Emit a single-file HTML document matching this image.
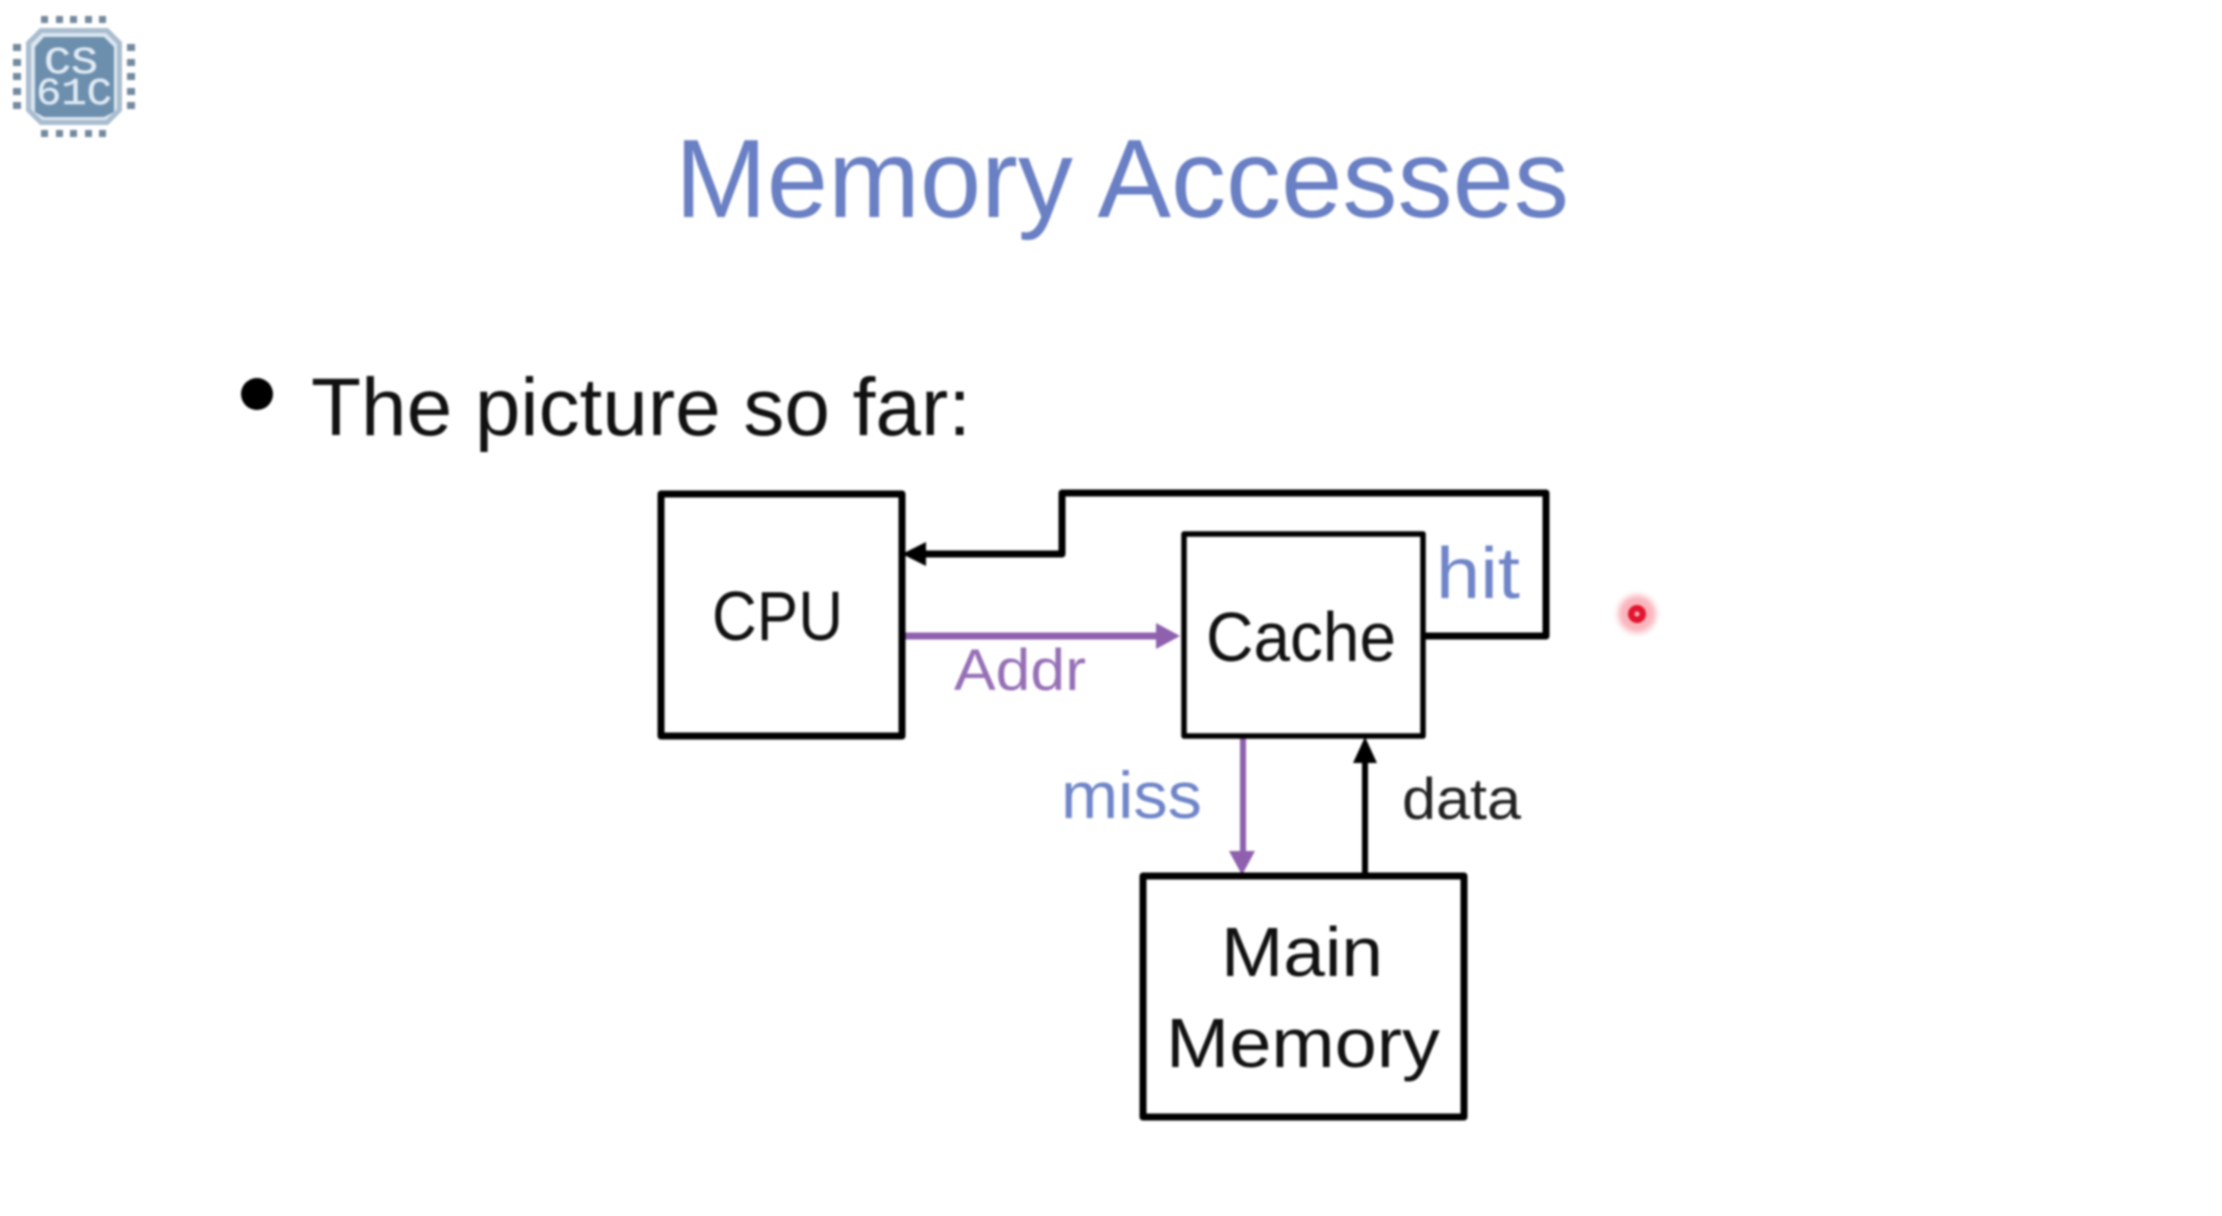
<!DOCTYPE html>
<html><head><meta charset="utf-8"><title>Memory Accesses</title>
<style>html,body{margin:0;padding:0;background:#fff;width:2222px;height:1216px;overflow:hidden}svg{display:block;filter:blur(1px)}text{font-family:"Liberation Sans",sans-serif}</style></head>
<body>
<svg width="2222" height="1216" viewBox="0 0 2222 1216" xmlns="http://www.w3.org/2000/svg">
<rect width="2222" height="1216" fill="#fff"/>
<!-- logo -->
<g fill="#73899e">
<rect x="41" y="16" width="7" height="7"/><rect x="56" y="16" width="7" height="7"/><rect x="70" y="16" width="7" height="7"/><rect x="85" y="16" width="7" height="7"/><rect x="99" y="16" width="7" height="7"/>
<rect x="41" y="130" width="7" height="7"/><rect x="56" y="130" width="7" height="7"/><rect x="70" y="130" width="7" height="7"/><rect x="85" y="130" width="7" height="7"/><rect x="99" y="130" width="7" height="7"/>
<rect x="13" y="44" width="8" height="7"/><rect x="13" y="59" width="8" height="7"/><rect x="13" y="73" width="8" height="7"/><rect x="13" y="88" width="8" height="7"/><rect x="13" y="102" width="8" height="7"/>
<rect x="127" y="44" width="8" height="7"/><rect x="127" y="59" width="8" height="7"/><rect x="127" y="73" width="8" height="7"/><rect x="127" y="88" width="8" height="7"/><rect x="127" y="102" width="8" height="7"/>
</g>
<polygon points="40,28 108,28 122,42 122,111 108,125 40,125 26,111 26,42" fill="#a9bdcf"/>
<polygon points="42,33 106,33 117,44 117,109 106,120 42,120 31,109 31,44" fill="#dbe6ef"/>
<polygon points="44,37 104,37 114,47 114,112 104,117 44,117 35,112 35,47" fill="#6d8fae"/>
<text x="71" y="73" text-anchor="middle" style="font-family:'Liberation Mono',monospace" font-size="38" fill="#dfeaf3" stroke="#dfeaf3" stroke-width=".5" textLength="54" lengthAdjust="spacingAndGlyphs">CS</text>
<text x="74" y="104" text-anchor="middle" style="font-family:'Liberation Mono',monospace" font-size="38" fill="#dfeaf3" stroke="#dfeaf3" stroke-width=".5" textLength="76" lengthAdjust="spacingAndGlyphs">61C</text>
<!-- heading -->
<text x="675" y="217" font-size="111" fill="#6a80c4" textLength="894" lengthAdjust="spacingAndGlyphs">Memory Accesses</text>
<circle cx="257" cy="394" r="16" fill="#000"/>
<text x="311" y="435" font-size="82" fill="#111" textLength="660" lengthAdjust="spacingAndGlyphs">The picture so far:</text>
<!-- connectors -->
<g fill="none" stroke="#000" stroke-width="7" stroke-linejoin="round">
<path d="M920 554H1062V493H1546V636H1424"/>
<path d="M1365 875V755" stroke-width="6"/>
</g>
<polygon points="902,554 926,542 926,566" fill="#000"/>
<polygon points="1365,737 1353,763 1377,763" fill="#000"/>
<g fill="none" stroke="#8e60ae" stroke-width="7">
<path d="M902 636H1160"/>
<path d="M1243 737V855" stroke-width="6"/>
</g>
<polygon points="1180,636 1156,623 1156,649" fill="#8e60ae"/>
<polygon points="1242,875 1229,851 1255,851" fill="#8e60ae"/>
<!-- boxes -->
<g fill="none" stroke="#000" stroke-linejoin="round">
<rect x="661" y="494" width="241" height="242" stroke-width="7"/>
<rect x="1184" y="534" width="239" height="202" stroke-width="5.5"/>
<rect x="1143" y="876" width="321" height="241" stroke-width="7"/>
</g>
<!-- labels -->
<text x="712" y="640" font-size="70" fill="#111" textLength="131" lengthAdjust="spacingAndGlyphs">CPU</text>
<text x="1206" y="661" font-size="70" fill="#111" textLength="190" lengthAdjust="spacingAndGlyphs">Cache</text>
<text x="1221" y="976" font-size="70" fill="#111" textLength="162" lengthAdjust="spacingAndGlyphs">Main</text>
<text x="1166" y="1067" font-size="70" fill="#111" textLength="274" lengthAdjust="spacingAndGlyphs">Memory</text>
<text x="954" y="690" font-size="58" fill="#9670b6" textLength="132" lengthAdjust="spacingAndGlyphs">Addr</text>
<text x="1436" y="598" font-size="72" fill="#6f85c8" textLength="84" lengthAdjust="spacingAndGlyphs">hit</text>
<text x="1061" y="818" font-size="66" fill="#6f85c8" textLength="141" lengthAdjust="spacingAndGlyphs">miss</text>
<text x="1402" y="819" font-size="58" fill="#222" textLength="119" lengthAdjust="spacingAndGlyphs">data</text>
<!-- pointer -->
<circle cx="1637" cy="614" r="19" fill="#f9a6b0" opacity=".85" style="filter:blur(3px)"/>
<circle cx="1637" cy="614" r="9" fill="#e3152f"/>
<circle cx="1637" cy="614" r="2.5" fill="#f9b6bd"/>
</svg>
</body></html>
